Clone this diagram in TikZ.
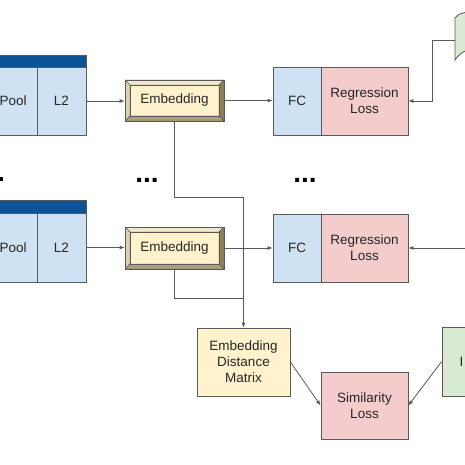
\documentclass[tikz,border=0pt]{standalone}
\usepackage{fontspec}
\setmainfont{Liberation Sans}
\usetikzlibrary{arrows.meta,calc}
\definecolor{hdr}{HTML}{0B5394}
\definecolor{bluef}{HTML}{CFE2F3}
\definecolor{yelf}{HTML}{FFF2CC}
\definecolor{redf}{HTML}{F4CCCC}
\definecolor{grnf}{HTML}{D9EAD3}
\definecolor{lg}{HTML}{595959}
\definecolor{txt}{HTML}{262626}
\definecolor{bvtop}{HTML}{F2E9CB}
\definecolor{bvleft}{HTML}{DDD2AE}
\definecolor{bvright}{HTML}{8C7F5C}
\definecolor{bvbot}{HTML}{AD9F78}
\begin{document}
\begin{tikzpicture}[x=1pt,y=-1pt,
  font=\fontsize{13.5}{16}\selectfont,
  box/.style={draw=lg, line width=0.8pt, inner sep=0pt, align=center, text=txt},
  conn/.style={draw=lg, line width=0.8pt},
  arr/.style={conn, -{Latex[length=5pt,width=4pt]}},
  dots/.style={font=\fontsize{28}{28}\selectfont\bfseries, text=black, inner sep=0pt},
  bevelbox/.style={box, fill=yelf, minimum width=99pt, minimum height=41pt,
    path picture={
      \coordinate (nw) at (path picture bounding box.north west);
      \coordinate (ne) at (path picture bounding box.north east);
      \coordinate (sw) at (path picture bounding box.south west);
      \coordinate (se) at (path picture bounding box.south east);
      \coordinate (inw) at ([xshift=5pt,yshift=-5pt]nw);
      \coordinate (ine) at ([xshift=-5pt,yshift=-5pt]ne);
      \coordinate (isw) at ([xshift=5pt,yshift=5pt]sw);
      \coordinate (ise) at ([xshift=-5pt,yshift=5pt]se);
      \filldraw[fill=bvtop, draw=lg, line width=0.4pt] (nw) -- (ne) -- (ine) -- (inw) -- cycle;
      \filldraw[fill=bvleft, draw=lg, line width=0.4pt] (nw) -- (sw) -- (isw) -- (inw) -- cycle;
      \filldraw[fill=bvright, draw=lg, line width=0.4pt] (ne) -- (se) -- (ise) -- (ine) -- cycle;
      \filldraw[fill=bvbot, draw=lg, line width=0.4pt] (sw) -- (se) -- (ise) -- (isw) -- cycle;
      \draw[lg, line width=0.7pt] (inw) rectangle (ise);
    }}
]
\path[use as bounding box, fill=white] (0,0) rectangle (465,465);
\clip (0,0) rectangle (465,465);

% left column, top
\node[box, fill=hdr, minimum width=88pt, minimum height=12pt] (hda) at (42,61) {};
\node[box, fill=bluef, minimum width=39pt, minimum height=68pt] (pla) at (17.5,101) {};
\node[anchor=west, inner sep=0pt, text=txt] (pta) at (-0.5,101) {Pool};
\node[box, fill=bluef, minimum width=49pt, minimum height=68pt] (l2a) at (61.5,101) {L2};

% left column, bottom
\node[box, fill=hdr, minimum width=88pt, minimum height=13pt] (hdb) at (42,206.5) {};
\node[box, fill=bluef, minimum width=39pt, minimum height=69pt] (plb) at (17.5,247.5) {};
\node[anchor=west, inner sep=0pt, text=txt] (ptb) at (-0.5,247.5) {Pool};
\node[box, fill=bluef, minimum width=49pt, minimum height=69pt] (l2b) at (61.5,247.5) {L2};

% embeddings
\node[bevelbox] (emba) at (174.5,100.5) {Embedding};
\node[bevelbox, minimum height=42pt] (embb) at (174.5,248) {Embedding};

% FC + regression
\node[box, fill=bluef, minimum width=48pt, minimum height=68pt] (fca) at (297,101) {FC};
\node[box, fill=redf, minimum width=87pt, minimum height=68pt] (rga) at (364.5,101) {Regression\\Loss};
\node[box, fill=bluef, minimum width=48pt, minimum height=68pt] (fcb) at (297,248) {FC};
\node[box, fill=redf, minimum width=87pt, minimum height=68pt] (rgb) at (364.5,248) {Regression\\Loss};

% distance matrix & similarity
\node[box, fill=yelf, minimum width=93pt, minimum height=68pt] (edm) at (243.5,362) {Embedding\\Distance\\Matrix};
\node[box, fill=redf, minimum width=87pt, minimum height=67pt] (sim) at (364.5,405.5) {Similarity\\Loss};

% green boxes (cut by the frame)
\node[box, fill=grnf, minimum width=30pt, minimum height=69pt] (gr) at (457,361.5) {};
\node[anchor=west, inner sep=0pt, text=txt] (grt) at (459.5,362) {I};
\path[draw=lg, fill=grnf, line width=0.8pt] (455,18) .. controls (458,14) and (462,12.5) .. (470,12)
  -- (470,50) .. controls (462,50.5) and (458,56) .. (455,60) -- cycle;
\coordinate (tp) at (455,40);
\coordinate (k1) at (432,40);
\coordinate (rin) at (466,248);

% dots
\node[dots, anchor=base] (dta) at (147,182.5) {...};
\node[dots, anchor=base] (dtb) at (305,182.5) {...};
\fill[black] (0,176.5) rectangle (3,180.5);

% connectors
\coordinate (j1) at (243.5,197);
\coordinate (j2) at (243.5,298);
\draw[arr] (l2a.east) -- (l2a.east -| emba.west);
\draw[arr] (l2b.east) -- (l2b.east -| embb.west);
\draw[arr] (emba.east) -- (emba.east -| fca.west);
\draw[arr] (embb.east) -- (embb.east -| fcb.west);
\draw[arr] (emba.south) |- (j1) -- (edm.north);
\draw[conn] (embb.south) |- (j2);
\draw[arr] (tp) -- (k1) |- (rga.east);
\draw[arr] (rin) -- (rgb.east);
\draw[arr] (edm.east) -- (sim.west);
\draw[arr] (gr.west) -- (sim.east);
\end{tikzpicture}
\end{document}
